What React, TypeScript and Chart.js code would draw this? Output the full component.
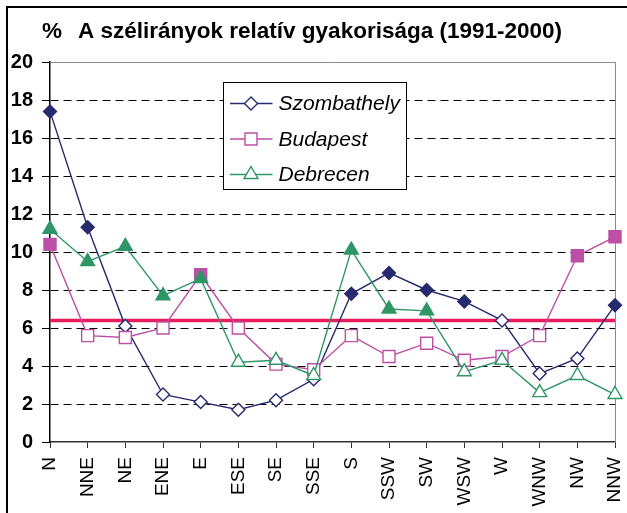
import React, { useEffect, useRef } from 'react';
import { Chart, registerables } from 'chart.js';

Chart.register(...registerables);

const directions = ['N', 'NNE', 'NE', 'ENE', 'E', 'ESE', 'SE', 'SSE', 'S', 'SSW', 'SW', 'WSW', 'W', 'WNW', 'NW', 'NNW'];
const szombathely = [17.4, 11.3, 6.1, 2.5, 2.1, 1.7, 2.2, 3.3, 7.8, 8.9, 8.0, 7.4, 6.4, 3.6, 4.4, 7.2];
const budapest = [10.4, 5.6, 5.5, 6.0, 8.8, 6.0, 4.1, 3.8, 5.6, 4.5, 5.2, 4.3, 4.5, 5.6, 9.8, 10.8];
const debrecen = [11.2, 9.5, 10.3, 7.7, 8.6, 4.2, 4.3, 3.5, 10.1, 7.0, 6.9, 3.7, 4.3, 2.6, 3.5, 2.5];
const AVERAGE = 6.4;
const Y_MIN = 0;
const Y_MAX = 20;
const Y_STEP = 2;
const TITLE_UNIT = '%';
const TITLE = 'A szélirányok relatív gyakorisága (1991-2000)';

const FONT = '"Liberation Sans", Arial, sans-serif';
const NAVY = '#262A6E';
const PINK = '#BC4FA6';
const GREEN = '#2E9667';
const RED = '#EA1C5C';

type SeriesDef = { name: string; values: number[]; color: string; style: 'rectRot' | 'rect' | 'triangle'; radius: number };
const series: SeriesDef[] = [
  { name: 'Szombathely', values: szombathely, color: NAVY, style: 'rectRot', radius: 6.5 },
  { name: 'Budapest', values: budapest, color: PINK, style: 'rect', radius: 8.5 },
  { name: 'Debrecen', values: debrecen, color: GREEN, style: 'triangle', radius: 8 },
];

function drawMarker(ctx: CanvasRenderingContext2D, style: string, x: number, y: number, r: number) {
  ctx.beginPath();
  if (style === 'rectRot') {
    ctx.moveTo(x - r, y);
    ctx.lineTo(x, y - r);
    ctx.lineTo(x + r, y);
    ctx.lineTo(x, y + r);
  } else if (style === 'rect') {
    const s = r * Math.SQRT1_2;
    ctx.rect(x - s, y - s, 2 * s, 2 * s);
  } else {
    for (let i = 0; i < 3; i++) {
      const a = (i * 2 * Math.PI) / 3;
      const px = x + Math.sin(a) * r;
      const py = y - Math.cos(a) * r;
      if (i === 0) ctx.moveTo(px, py);
      else ctx.lineTo(px, py);
    }
  }
  ctx.closePath();
  ctx.fillStyle = '#fff';
  ctx.fill();
  ctx.stroke();
}

const decorPlugin = {
  id: 'decor',
  beforeDatasetsDraw(chart: any) {
    const { ctx, chartArea: a, scales } = chart;
    ctx.save();
    ctx.strokeStyle = '#8a8a8a';
    ctx.lineWidth = 1;
    ctx.beginPath();
    ctx.moveTo(a.left, a.top + 0.5);
    ctx.lineTo(a.right + 0.5, a.top + 0.5);
    ctx.lineTo(a.right + 0.5, a.bottom);
    ctx.stroke();
    const y = scales.y.getPixelForValue(AVERAGE);
    ctx.strokeStyle = RED;
    ctx.lineWidth = 3.5;
    ctx.beginPath();
    ctx.moveTo(a.left, y);
    ctx.lineTo(a.right, y);
    ctx.stroke();
    ctx.restore();
  },
  afterDraw(chart: any) {
    const { ctx, chartArea: a } = chart;
    ctx.save();
    // title
    ctx.fillStyle = '#000';
    ctx.font = `bold 22.5px ${FONT}`;
    ctx.textBaseline = 'alphabetic';
    ctx.textAlign = 'left';
    ctx.fillText(TITLE_UNIT, a.left - 8, 37.5);
    ctx.fillText(TITLE, a.left + 28, 37.5);
    // legend
    const lx = a.left + 173.5;
    const ly = a.top + 20.5;
    const lw = 183;
    const lh = 107;
    ctx.fillStyle = '#fff';
    ctx.fillRect(lx, ly, lw, lh);
    ctx.strokeStyle = '#000';
    ctx.lineWidth = 1;
    ctx.strokeRect(lx, ly, lw, lh);
    ctx.font = `italic 21px ${FONT}`;
    ctx.textBaseline = 'middle';
    series.forEach((s, i) => {
      const cy = ly + 21 + i * 35.5;
      ctx.strokeStyle = s.color;
      ctx.lineWidth = 1.4;
      ctx.beginPath();
      ctx.moveTo(lx + 6.5, cy);
      ctx.lineTo(lx + 49, cy);
      ctx.stroke();
      drawMarker(ctx, s.style, lx + 27.5, cy, s.radius);
      ctx.fillStyle = '#000';
      ctx.fillText(s.name, lx + 55, cy + 1);
    });
    ctx.restore();
  },
};

export default function App() {
  const ref = useRef<HTMLCanvasElement>(null);
  useEffect(() => {
    const chart = new Chart(ref.current as HTMLCanvasElement, {
      type: 'line',
      data: {
        labels: directions,
        datasets: series.map((s, i) => ({
          label: s.name,
          data: s.values,
          order: 2 - i,
          borderColor: s.color,
          borderWidth: 1.4,
          tension: 0,
          fill: false,
          pointStyle: s.style,
          pointRadius: s.radius,
          pointBorderWidth: 1.4,
          pointBorderColor: s.color,
          pointBackgroundColor: s.values.map((v) => (v > AVERAGE ? s.color : '#fff')),
          clip: false,
        })),
      },
      options: {
        responsive: false,
        animation: false,
        devicePixelRatio: 1,
        layout: { padding: { top: 62, right: 12, left: 0, bottom: 0 } },
        plugins: {
          legend: { display: false },
          title: { display: false },
          tooltip: { enabled: false },
        },
        scales: {
          x: {
            type: 'category',
            offset: false,
            grid: { drawOnChartArea: false, drawTicks: true, tickLength: 6, color: '#333', tickColor: '#333' },
            border: { color: '#333', width: 1.5 },
            ticks: {
              color: '#000',
              font: { family: FONT, size: 19 },
              minRotation: 90,
              maxRotation: 90,
              autoSkip: false,
              padding: 9,
            },
            afterFit: (s: any) => {
              s.height = 71;
              s.paddingLeft = 0;
              s.paddingRight = 0;
            },
          },
          y: {
            min: Y_MIN,
            max: Y_MAX,
            ticks: {
              stepSize: Y_STEP,
              color: '#000',
              font: { family: FONT, size: 20, weight: 'bold' },
              padding: 9,
            },
            grid: {
              color: (c: any) => (c.tick && (c.tick.value === Y_MIN || c.tick.value === Y_MAX) ? 'rgba(0,0,0,0)' : '#000'),
              tickColor: '#000',
              tickLength: 8,
              lineWidth: 1,
            },
            border: { color: '#000', width: 1.5, dash: [8, 5] },
            afterFit: (s: any) => {
              s.width = 50;
              s.paddingTop = 0;
              s.paddingBottom = 0;
            },
          },
        },
      },
      plugins: [decorPlugin],
    } as any);
    return () => chart.destroy();
  }, []);

  return (
    <div style={{ position: 'absolute', left: 0, top: 0, width: 627, height: 513, overflow: 'hidden', background: '#fff' }}>
      <canvas ref={ref} width={627} height={513} style={{ position: 'absolute', left: 0, top: 0 }} />
      <div
        style={{
          position: 'absolute',
          left: 6,
          top: 6,
          width: 700,
          height: 600,
          borderLeft: '2px solid #000',
          borderTop: '2px solid #000',
          pointerEvents: 'none',
        }}
      />
    </div>
  );
}
